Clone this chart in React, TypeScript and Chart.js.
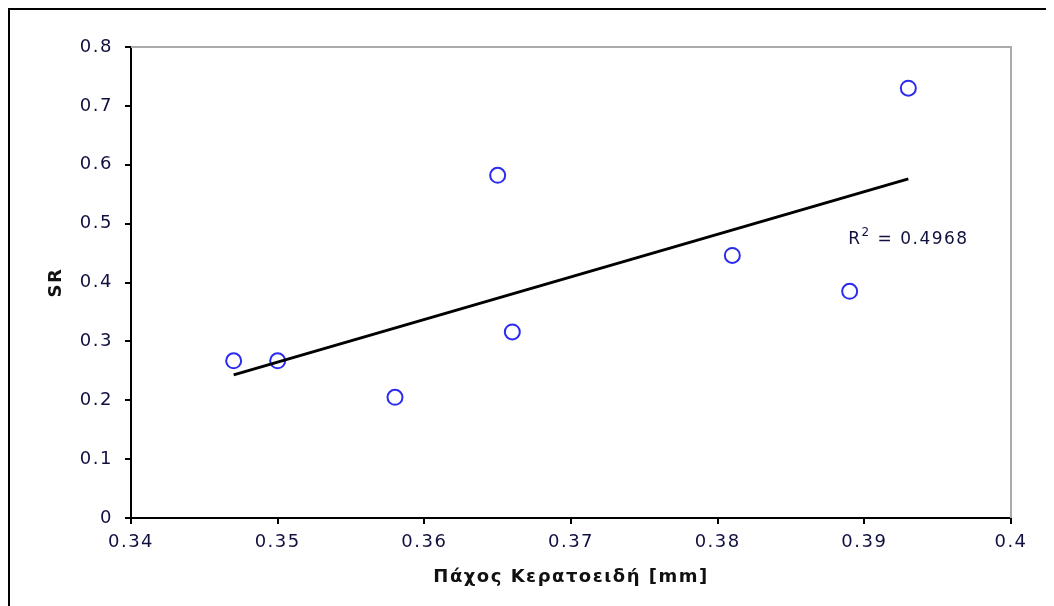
import React, { useEffect, useRef } from "react";
import { Chart, registerables } from "chart.js";

Chart.register(...registerables);

// ---- data ----
const thickness: number[] = [0.347, 0.35, 0.358, 0.365, 0.366, 0.381, 0.389, 0.393];
const srValues: number[] = [0.267, 0.267, 0.205, 0.582, 0.316, 0.446, 0.385, 0.73];
const trendX: number[] = [0.347, 0.393];
const trendY: number[] = [0.243, 0.576];
const rSquaredValue = "0.4968";
const rSquaredPos: number[] = [0.3889, 0.477];
const xTitle = "Πάχος Κερατοειδή [mm]";
const yTitle = "SR";
const xRange: number[] = [0.34, 0.4, 0.01];
const yRange: number[] = [0, 0.8, 0.1];

const FONT = "'DejaVu Sans', Verdana, sans-serif";
const TICK_COLOR = "#101040";

const spacingPlugin = {
  id: "spacing",
  beforeDraw(chart: any) {
    (chart.ctx as any).letterSpacing = "1.5px";
  },
};

const framePlugin = {
  id: "frame",
  beforeDatasetsDraw(chart: any) {
    const { ctx, chartArea } = chart;
    ctx.save();
    ctx.strokeStyle = "#aaaaaa";
    ctx.lineWidth = 2;
    ctx.beginPath();
    ctx.moveTo(chartArea.left, chartArea.top);
    ctx.lineTo(chartArea.right, chartArea.top);
    ctx.lineTo(chartArea.right, chartArea.bottom);
    ctx.stroke();
    ctx.restore();
  },
  afterDraw(chart: any) {
    const { ctx, scales } = chart;
    ctx.save();
    (ctx as any).letterSpacing = "1.5px";
    ctx.fillStyle = TICK_COLOR;
    ctx.textAlign = "left";
    ctx.textBaseline = "alphabetic";
    let x = scales.x.getPixelForValue(rSquaredPos[0]);
    const y = scales.y.getPixelForValue(rSquaredPos[1]) + 7;
    ctx.font = `17px ${FONT}`;
    ctx.fillText("R", x, y);
    x += ctx.measureText("R").width;
    ctx.font = `12px ${FONT}`;
    ctx.fillText("2", x, y - 8);
    x += ctx.measureText("2").width;
    ctx.font = `17px ${FONT}`;
    ctx.fillText(" = " + rSquaredValue, x, y);
    ctx.restore();
  },
};

const fmt = (v: any) => String(Number(Number(v).toFixed(3)));

export default function App() {
  const ref = useRef<HTMLCanvasElement | null>(null);

  useEffect(() => {
    document.documentElement.style.overflow = "hidden";
    document.body.style.overflow = "hidden";
    if (!ref.current) return;
    const chart = new Chart(ref.current, {
      type: "scatter",
      data: {
        datasets: [
          {
            type: "line",
            data: trendX.map((x, i) => ({ x, y: trendY[i] })),
            borderColor: "#000000",
            borderWidth: 3,
            pointRadius: 0,
            fill: false,
          } as any,
          {
            type: "scatter",
            data: thickness.map((x, i) => ({ x, y: srValues[i] })),
            pointStyle: "circle",
            pointRadius: 7.5,
            pointBorderWidth: 2,
            borderColor: "#2b2bf0",
            backgroundColor: "rgba(0,0,0,0)",
            pointBackgroundColor: "rgba(0,0,0,0)",
          } as any,
        ],
      },
      options: {
        animation: false,
        responsive: false,
        maintainAspectRatio: false,
        layout: { padding: { left: 0, top: 37, right: 43, bottom: 0 } },
        plugins: {
          legend: { display: false },
          tooltip: { enabled: false },
        },
        scales: {
          x: {
            type: "linear",
            min: xRange[0],
            max: xRange[1],
            afterFit: (s: any) => {
              s.height = 80;
            },
            ticks: {
              stepSize: xRange[2],
              color: TICK_COLOR,
              font: { family: FONT, size: 18 },
              padding: 8,
              maxRotation: 0,
              callback: fmt,
            },
            grid: {
              display: true,
              drawOnChartArea: false,
              drawTicks: true,
              tickLength: 6,
              color: "#000000",
              lineWidth: 2,
            },
            border: { display: true, color: "#000000", width: 2 },
            title: {
              display: true,
              text: xTitle,
              color: "#111111",
              font: { family: FONT, size: 18, weight: "bold" },
              padding: { top: 0, bottom: 10 },
            },
          },
          y: {
            type: "linear",
            min: yRange[0],
            max: yRange[1],
            afterFit: (s: any) => {
              s.width = 121;
            },
            ticks: {
              stepSize: yRange[2],
              color: TICK_COLOR,
              font: { family: FONT, size: 18 },
              padding: 12,
              callback: fmt,
            },
            grid: {
              display: true,
              drawOnChartArea: false,
              drawTicks: true,
              tickLength: 6,
              color: "#000000",
              lineWidth: 2,
            },
            border: { display: true, color: "#000000", width: 2 },
            title: {
              display: true,
              text: yTitle,
              color: "#111111",
              font: { family: FONT, size: 18, weight: "bold" },
              padding: { top: 36, bottom: 0 },
            },
          },
        },
      } as any,
      plugins: [spacingPlugin, framePlugin],
    });
    return () => chart.destroy();
  }, []);

  return (
    <div
      style={{
        width: 1060,
        height: 600,
        borderLeft: "2px solid #000",
        borderTop: "2px solid #000",
        background: "#fff",
      }}
    >
      <canvas ref={ref} width={1044} height={588} style={{ display: "block" }} />
    </div>
  );
}
